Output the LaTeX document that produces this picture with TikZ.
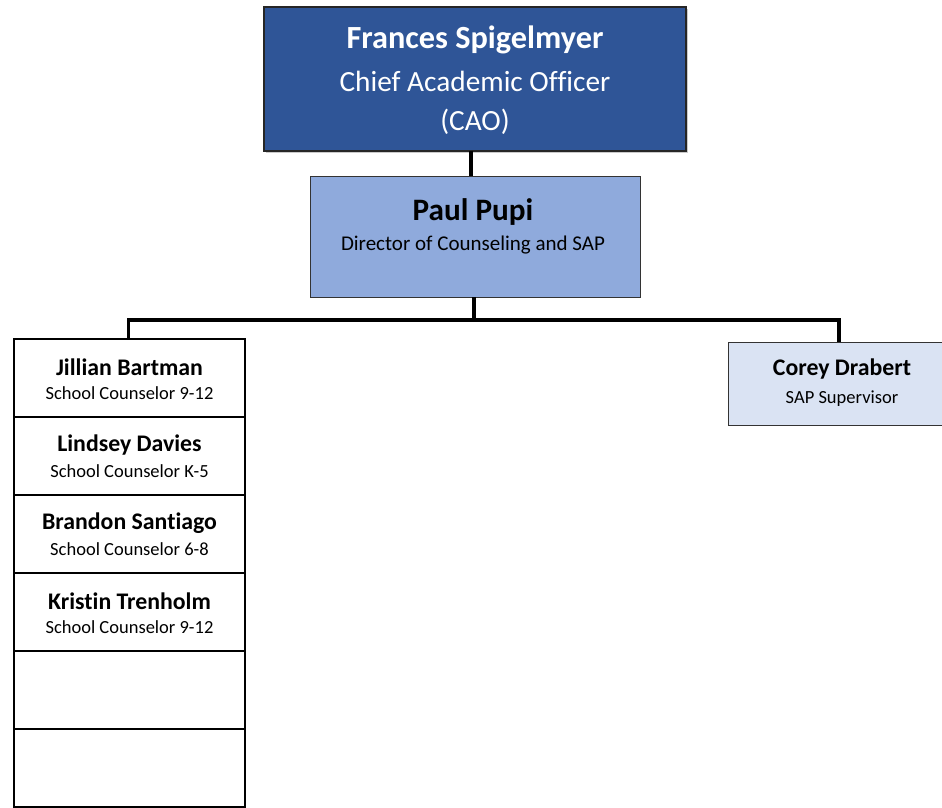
\documentclass[tikz,border=0pt]{standalone}
\usepackage{fontspec}
\setmainfont{Carlito}[Ligatures=NoCommon]
\usetikzlibrary{shadows}
\definecolor{caoblue}{HTML}{2F5597}
\definecolor{dirblue}{HTML}{8FAADC}
\definecolor{supblue}{HTML}{DAE3F3}
\tikzset{
  box/.style={rectangle, anchor=north west, inner sep=0pt, outer sep=0pt},
  caobox/.style={box, fill=caoblue, draw=black!85, line width=1.2pt,
    drop shadow={shadow xshift=2pt, shadow yshift=-2pt, opacity=0.35, fill=black!60}},
  dirbox/.style={box, fill=dirblue, draw=black!80, line width=1pt},
  supbox/.style={box, fill=supblue, draw=black!80, line width=1pt},
  staffbox/.style={box, fill=white, draw=black, line width=2pt,
    minimum width=231pt, minimum height=78pt},
  conn/.style={draw=black, line width=3.5pt},
  nm/.style={font=\bfseries\fontsize{23.8}{28}\selectfont, inner sep=0pt},
  rl/.style={font=\fontsize{18.5}{22}\selectfont, inner sep=0pt},
}
\begin{document}
\begin{tikzpicture}[x=1pt, y=-1pt]
\useasboundingbox (0,0) rectangle (942,807);

% Chief Academic Officer
\node[caobox, minimum width=422pt, minimum height=144pt] (cao) at (264,7) {};
\node[font=\bfseries\fontsize{32.3}{36}\selectfont, text=white, inner sep=0pt] (caoname) at (475,40) {Frances Spigelmyer};
\node[font=\fontsize{29.3}{34}\selectfont, text=white, inner sep=0pt] (caorole) at (475,81) {Chief Academic Officer};
\node[font=\fontsize{29.3}{34}\selectfont, text=white, inner sep=0pt] (caoabbr) at (475,122) {(CAO)};

% Director
\node[dirbox, minimum width=330pt, minimum height=121pt] (paul) at (310,176) {};
\node[font=\bfseries\fontsize{31.2}{36}\selectfont, inner sep=0pt] (paulname) at (473,212) {Paul Pupi};
\node[font=\fontsize{21}{25}\selectfont, inner sep=0pt] (paulrole) at (473,245) {Director of Counseling and SAP};

% SAP supervisor
\node[supbox, minimum width=216pt, minimum height=83pt] (corey) at (728,342) {};
\node[nm] (coreyname) at (842,369) {Corey Drabert};
\node[rl] (coreyrole) at (842,399) {SAP Supervisor};

% School counselors
\foreach \i/\nam/\rol in {1/Jillian Bartman/School Counselor 9-12,
                          2/Lindsey Davies/School Counselor K-5,
                          3/Brandon Santiago/School Counselor 6-8,
                          4/Kristin Trenholm/School Counselor 9-12,
                          5//, 6//} {
  \node[staffbox] (sc\i) at (14,{339+78*(\i-1)}) {};
  \node[nm] (sc\i name) at (129.5,{339+78*(\i-1)+28}) {\nam};
  \node[rl] (sc\i role) at (129.5,{339+78*(\i-1)+54}) {\rol};
}

% Reporting lines
\draw[conn] ([xshift=-4pt]cao.south) -- ([xshift=-4pt]cao.south |- paul.north);
\draw[conn] ([xshift=-1pt]paul.south) -- ++(0,23) coordinate (bus);
\draw[conn] ([xshift=-1pt]sc1.north) |- (bus) -| ([xshift=3pt]corey.north);
\end{tikzpicture}
\end{document}
